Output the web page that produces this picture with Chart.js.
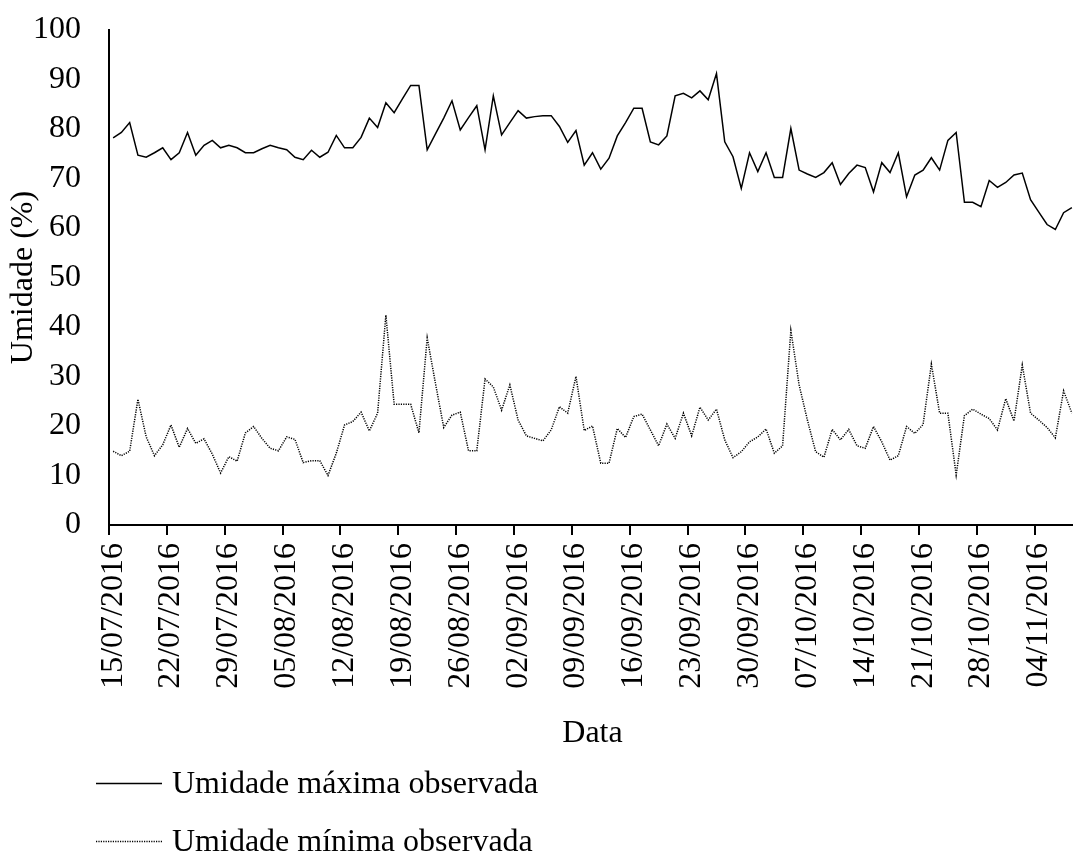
<!DOCTYPE html>
<html>
<head>
<meta charset="utf-8">
<script src="https://cdn.jsdelivr.net/npm/chart.js@4.4.1/dist/chart.umd.min.js"></script>
<style>
  html, body { margin: 0; padding: 0; background: #fff; overflow: hidden; }
  #wrap { width: 1076px; height: 863px; }
</style>
</head>
<body>
<div id="wrap"><canvas id="chart" width="1076" height="863"></canvas></div>
<script>
// daily series, 15/07/2016 .. 08/11/2016
const startDate = new Date(2016, 6, 15);
const dayCount = 117;

const umidadeMax = [
  78.2, 79.3, 81.3, 74.7, 74.3, 75.2, 76.2, 73.8, 75.2, 79.3,
  74.7, 76.7, 77.7, 76.2, 76.7, 76.2, 75.2, 75.2, 76.0, 76.7,
  76.2, 75.8, 74.3, 73.8, 75.7, 74.3, 75.3, 78.7, 76.2, 76.2,
  78.3, 82.2, 80.3, 85.3, 83.3, 86.1, 88.8, 88.8, 75.8, 79.0,
  82.2, 85.7, 79.8, 82.3, 84.7, 75.8, 86.7, 78.8, 81.3, 83.7,
  82.2, 82.5, 82.7, 82.7, 80.5, 77.3, 79.7, 72.7, 75.2, 71.9,
  74.1, 78.6, 81.3, 84.2, 84.2, 77.4, 76.8, 78.6, 86.7, 87.2,
  86.3, 87.7, 85.9, 91.2, 77.4, 74.4, 68.0, 75.2, 71.4, 75.2,
  70.2, 70.2, 80.1, 71.7, 70.9, 70.2, 71.2, 73.2, 68.8, 71.0,
  72.7, 72.2, 67.3, 73.2, 71.2, 75.2, 66.3, 70.7, 71.7, 74.2,
  71.7, 77.7, 79.3, 65.2, 65.2, 64.3, 69.6, 68.2, 69.2, 70.7,
  71.1, 65.7, 63.2, 60.7, 59.7, 63.1, 64.1
];

const umidadeMin = [
  14.9, 14.0, 14.9, 25.4, 17.8, 14.0, 16.2, 20.2, 15.7, 19.5,
  16.5, 17.4, 14.3, 10.5, 13.8, 12.9, 18.6, 19.9, 17.5, 15.5,
  15.0, 17.8, 17.3, 12.6, 13.0, 13.0, 10.0, 14.5, 20.2, 20.9,
  22.8, 19.0, 22.6, 42.4, 24.4, 24.4, 24.4, 18.6, 37.8, 28.6,
  19.7, 22.2, 22.8, 15.0, 15.0, 29.5, 27.9, 23.2, 28.3, 21.2,
  18.0, 17.5, 17.0, 19.2, 23.9, 22.6, 30.0, 19.1, 20.0, 12.5,
  12.5, 19.5, 17.7, 21.9, 22.4, 19.2, 16.0, 20.4, 17.5, 22.6,
  18.0, 23.8, 21.2, 23.4, 17.2, 13.6, 14.8, 16.8, 17.8, 19.4,
  14.5, 16.0, 39.3, 28.3, 21.2, 14.8, 13.7, 19.3, 17.2, 19.3,
  16.0, 15.5, 19.9, 16.8, 13.1, 14.0, 19.9, 18.5, 20.3, 32.5,
  22.6, 22.6, 10.1, 22.1, 23.4, 22.4, 21.5, 19.2, 25.5, 21.0,
  32.3, 22.6, 21.2, 19.7, 17.6, 27.1, 22.6
];

const yTicks = [0, 10, 20, 30, 40, 50, 60, 70, 80, 90, 100];
const tickEvery = 7; // one date label per week

function fmt(d) {
  const dd = String(d.getDate()).padStart(2, '0');
  const mm = String(d.getMonth() + 1).padStart(2, '0');
  return dd + '/' + mm + '/' + d.getFullYear();
}

const datas = [];
for (let i = 0; i < dayCount; i++) {
  const d = new Date(startDate);
  d.setDate(d.getDate() + i);
  datas.push(fmt(d));
}

const serif = 'Liberation Serif, Times New Roman, serif';
const fontSize = 32;

// legend drawn as a stacked list under the axis title
const stackedLegend = {
  id: 'stackedLegend',
  afterDraw(chart) {
    const ctx = chart.ctx;
    const rows = [785, 843];
    ctx.save();
    ctx.font = fontSize + 'px ' + serif;
    ctx.textBaseline = 'middle';
    ctx.fillStyle = '#000';
    chart.data.datasets.forEach((ds, i) => {
      const y = rows[i] - 1.5;
      ctx.beginPath();
      ctx.strokeStyle = ds.borderColor;
      ctx.lineWidth = ds.borderWidth;
      ctx.setLineDash(ds.borderDash || []);
      ctx.moveTo(96, y);
      ctx.lineTo(162, y);
      ctx.stroke();
      ctx.setLineDash([]);
      ctx.fillText(ds.label, 172, rows[i]);
    });
    ctx.restore();
  }
};

new Chart(document.getElementById('chart'), {
  type: 'line',
  data: {
    labels: datas,
    datasets: [
      {
        label: 'Umidade máxima observada',
        data: umidadeMax,
        borderColor: '#000',
        borderWidth: 1.5,
        pointRadius: 0,
        tension: 0
      },
      {
        label: 'Umidade mínima observada',
        data: umidadeMin,
        borderColor: '#000',
        borderWidth: 1.5,
        borderDash: [1.2, 1.2],
        pointRadius: 0,
        tension: 0
      }
    ]
  },
  options: {
    responsive: false,
    animation: false,
    layout: { padding: { top: 30, right: 0, bottom: 110, left: 0 } },
    plugins: {
      legend: { display: false },
      tooltip: { enabled: false }
    },
    scales: {
      x: {
        type: 'category',
        offset: true,
        afterFit: s => {
          s.height = 228;
          s.paddingLeft = 0;
          s.paddingRight = 0;
        },
        border: { display: true, color: '#000', width: 2 },
        grid: {
          offset: true,
          drawOnChartArea: false,
          drawTicks: true,
          tickLength: 10,
          lineWidth: 2,
          color: c => (c.index % tickEvery === 0 ? '#000' : 'rgba(0,0,0,0)')
        },
        ticks: {
          autoSkip: false,
          maxRotation: 90,
          minRotation: 90,
          padding: 8,
          color: '#000',
          font: { family: serif, size: fontSize },
          callback: (v, i) => (i % tickEvery === 0 ? datas[i] : '')
        },
        title: {
          display: true,
          text: 'Data',
          color: '#000',
          padding: { top: 0, bottom: 0 },
          font: { family: serif, size: fontSize }
        }
      },
      y: {
        min: 0,
        max: 100,
        afterFit: s => {
          s.width = 109;
          s.paddingTop = 0;
          s.paddingBottom = 0;
        },
        afterBuildTicks: s => { s.ticks = yTicks.map(v => ({ value: v })); },
        border: { display: true, color: '#000', width: 2 },
        grid: { display: false, drawTicks: false },
        ticks: {
          padding: 28,
          color: '#000',
          font: { family: serif, size: fontSize }
        },
        title: {
          display: true,
          text: 'Umidade (%)',
          color: '#000',
          padding: { top: 4, bottom: 0 },
          font: { family: serif, size: fontSize }
        }
      }
    }
  },
  plugins: [stackedLegend]
});
</script>
</body>
</html>
